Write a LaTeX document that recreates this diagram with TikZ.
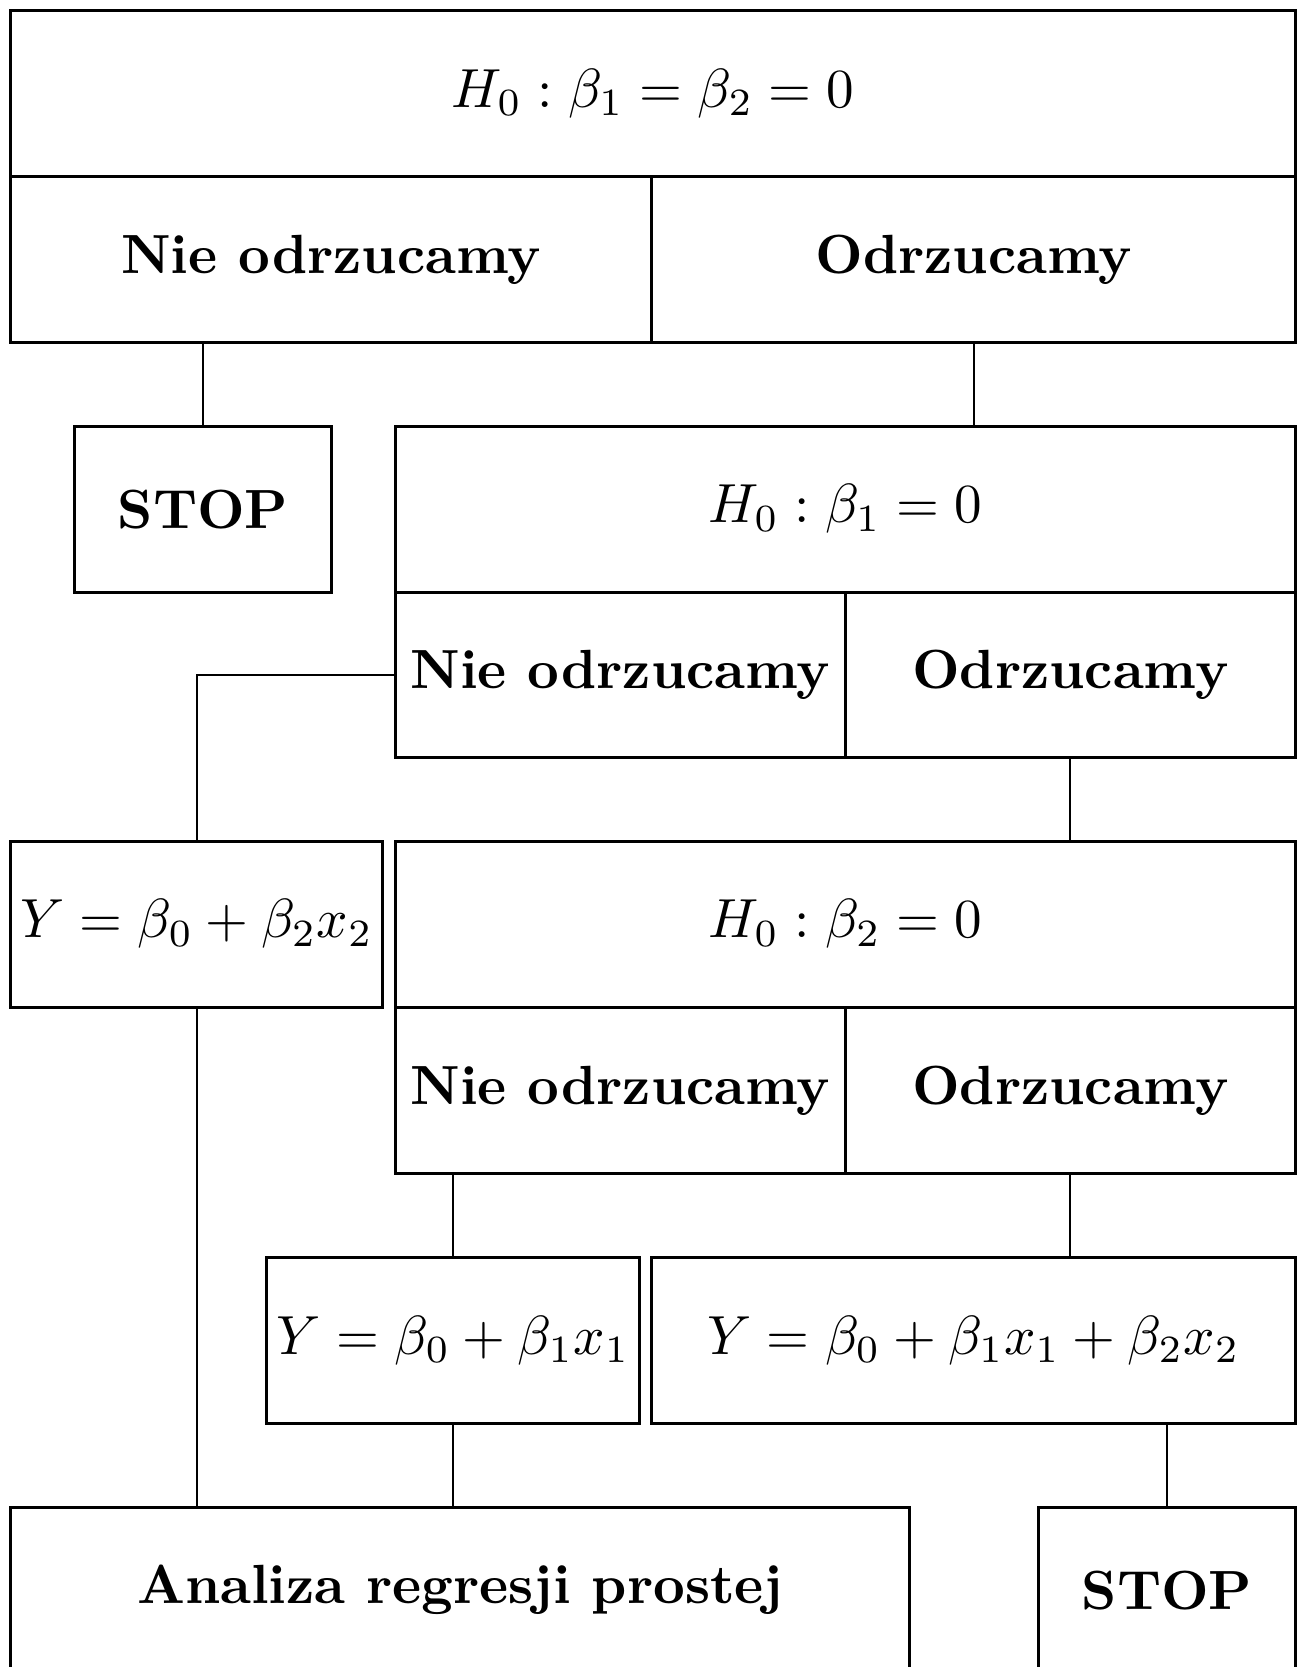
\documentclass[tikz,border=0pt]{standalone}
\usepackage{graphicx}
\usetikzlibrary{calc}
\newcommand\TT[1]{\scalebox{2.76}{#1}}
\newcommand\MM[1]{\scalebox{2.755}{$#1$}}
\begin{document}
\begin{tikzpicture}[x=0.5pt,y=-0.5pt,
  box/.style={draw, line width=1.5pt, inner sep=0pt, minimum height=82.9pt,
    font=\fontsize{10}{12}\selectfont\bfseries},
  conn/.style={line width=1pt}]
\useasboundingbox (0,0) rectangle (1302,1667);
% row 1
\node[box, minimum width=642.5pt] (top1) at (653.2,93.5) {\MM{H_0:\beta_1=\beta_2=0}};
\node[box, minimum width=320.5pt] (nie1) at (331.1,259.4) {\TT{Nie odrzucamy}};
\node[box, minimum width=322pt] (odr1) at (973.6,259.4) {\TT{Odrzucamy}};
% row 2
\node[box, minimum width=128.6pt] (stop1) at (203,509.1) {\TT{STOP}};
\node[box, minimum width=450.1pt] (top2) at (845.5,509.1) {\MM{H_0:\beta_1=0}};
\node[box, minimum width=224.8pt] (nie2) at (620.2,674.9) {\TT{Nie odrzucamy}};
\node[box, minimum width=225.3pt] (odr2) at (1070.4,674.9) {\TT{Odrzucamy}};
% row 3
\node[box, minimum width=186pt] (yb2) at (196.6,924.2) {\MM{Y=\beta_0+\beta_2x_2}};
\node[box, minimum width=450.1pt] (top3) at (845.5,924.2) {\MM{H_0:\beta_2=0}};
\node[box, minimum width=224.8pt] (nie3) at (620.2,1090.5) {\TT{Nie odrzucamy}};
\node[box, minimum width=225.3pt] (odr3) at (1070.4,1090.5) {\TT{Odrzucamy}};
% row 4
\node[box, minimum width=186.5pt] (yb1) at (453.4,1340.3) {\MM{Y=\beta_0+\beta_1x_1}};
\node[box, minimum width=322pt] (yfull) at (973.6,1340.3) {\MM{Y=\beta_0+\beta_1x_1+\beta_2x_2}};
% row 5
\node[box, minimum width=449.6pt] (anal) at (460.2,1590.1) {\TT{Analiza regresji prostej}};
\node[box, minimum width=128.6pt] (stop2) at (1167.1,1590.1) {\TT{STOP}};
% connectors
\draw[conn] (stop1.north |- nie1.south) -- (stop1.north);
\draw[conn] (odr1.south) -- (odr1.south |- top2.north);
\draw[conn] (nie2.west) -| (yb2.north);
\draw[conn] (odr2.south) -- (odr2.south |- top3.north);
\draw[conn] (yb1.north) -- (yb1.north |- nie3.south);
\draw[conn] (odr3.south) -- (odr3.south |- yfull.north);
\draw[conn] (yb2.south) -- (yb2.south |- anal.north);
\draw[conn] (yb1.south) -- (yb1.south |- anal.north);
\draw[conn] (stop2.north |- yfull.south) -- (stop2.north);
\end{tikzpicture}
\end{document}
